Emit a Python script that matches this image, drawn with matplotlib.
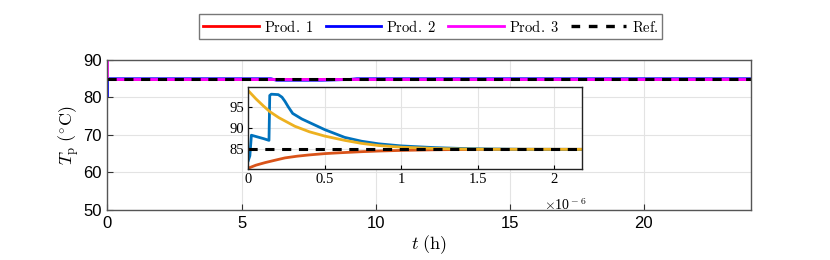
import numpy as np
import matplotlib
matplotlib.use('Agg')
import matplotlib.pyplot as plt
from matplotlib.lines import Line2D

plt.rcParams['mathtext.fontset'] = 'cm'

# main plot (t in h)
t_p1 = [0, 24]
p1 = [85, 85]
t_p2 = [0, 0.0, 0.05, 6.1, 6.3, 8.0, 9.0, 9.3, 24]
p2 = [80.5, 85, 85, 85, 84.6, 84.6, 84.8, 85, 85]
t_p3 = [0, 0.0, 0.05, 24]
p3 = [90, 85, 85, 85]
t_ref = [0, 24]
ref = [85, 85]

# inset (t in 1e-6 h)
ti_p1 = [0, 0.05, 0.11, 0.18, 0.24, 0.32, 0.4, 0.5, 0.6, 0.74, 0.85, 1.0, 1.22, 1.5, 1.8, 2.18]
pi_p1 = [80.6, 81.3, 81.9, 82.5, 83.0, 83.4, 83.7, 84.0, 84.2, 84.45, 84.6, 84.75, 84.9, 85.0, 85.0, 85.0]
ti_p2 = [0, 0.01, 0.02, 0.06, 0.1, 0.135, 0.14, 0.15, 0.196, 0.22, 0.24, 0.26, 0.29, 0.35, 0.41,
         0.5, 0.63, 0.74, 0.85, 1.0, 1.22, 1.4, 1.6, 1.8, 2.18]
pi_p2 = [82.4, 83.5, 88.3, 87.9, 87.5, 87.1, 97.6, 97.9, 97.8, 97.2, 96.2, 95.0, 93.4, 92.1, 91.1,
         89.6, 87.8, 86.9, 86.3, 85.8, 85.4, 85.2, 85.08, 85.02, 85.0]
ti_p3 = [0, 0.05, 0.1, 0.141, 0.2, 0.304, 0.4, 0.5, 0.63, 0.74, 0.85, 1.0, 1.22, 1.4, 1.6, 2.18]
pi_p3 = [98.7, 96.8, 95.1, 93.8, 92.4, 90.4, 89.1, 88.1, 87.1, 86.4, 85.9, 85.5, 85.2, 85.07, 85.02, 85.0]

fig = plt.figure(figsize=(8.3, 2.6), dpi=100)
ax = fig.add_axes([0.1295, 0.1923, 0.7753, 0.577])

ax.plot(t_p1, p1, color='red', lw=2)
ax.plot(t_p2, p2, color='blue', lw=2)
ax.plot(t_p3, p3, color='magenta', lw=2)
ax.plot(t_ref, ref, color='black', lw=2.2, ls=(0, (3, 2.5)))

ax.set_xlim(0, 24)
ax.set_ylim(50, 90)
ax.set_xticks([0, 5, 10, 15, 20])
ax.set_yticks([50, 60, 70, 80, 90])
ax.grid(True, color='#e3e3e3', lw=0.8)
ax.tick_params(direction='in', length=4, color='#333333', labelsize=12, pad=4)
for lbl in ax.get_xticklabels() + ax.get_yticklabels():
    lbl.set_fontfamily('Liberation Sans')
for s in ax.spines.values():
    s.set_color('#555555')
    s.set_linewidth(1)
ax.set_xlabel(r'$t\ \mathrm{(h)}$', fontsize=13, labelpad=2)
ax.set_ylabel(r'$T_{\mathrm{p}}\ (^{\circ}\mathrm{C})$', fontsize=13, labelpad=2)

handles = [Line2D([], [], color='red', lw=2),
           Line2D([], [], color='blue', lw=2),
           Line2D([], [], color='magenta', lw=2),
           Line2D([], [], color='black', lw=2.4, ls=(0, (2.6, 2.6)))]
labels = [r'$\mathrm{Prod.\ 1}$', r'$\mathrm{Prod.\ 2}$', r'$\mathrm{Prod.\ 3}$', r'$\mathrm{Ref.}$']
leg = fig.legend(handles, labels, loc='center', bbox_to_anchor=(0.519, 0.898), ncol=4,
                 fontsize=10.5, frameon=True, fancybox=False, edgecolor='#555555',
                 handlelength=3.8, columnspacing=0.8, handletextpad=0.35,
                 borderpad=0.3, borderaxespad=0)
leg.get_frame().set_linewidth(1)

# inset
axi = fig.add_axes([0.2992, 0.35, 0.4017, 0.314])
axi.plot(ti_p1, pi_p1, color='#D95319', lw=2)
axi.plot(ti_p2, pi_p2, color='#0072BD', lw=2)
axi.plot(ti_p3, pi_p3, color='#EDB120', lw=2)
axi.plot([0, 2.18], [85, 85], color='black', lw=2.2, ls=(0, (3, 2.5)))
axi.set_xlim(0, 2.18)
axi.set_ylim(80.4, 99.5)
axi.set_xticks([0, 0.5, 1, 1.5, 2])
axi.set_xticklabels(['0', '0.5', '1', '1.5', '2'])
axi.set_yticks([85, 90, 95])
axi.grid(True, color='#e3e3e3', lw=0.8)
axi.tick_params(direction='in', length=3, labelsize=10.5, pad=3)
for lbl in axi.get_xticklabels() + axi.get_yticklabels():
    lbl.set_fontfamily('Liberation Serif')
for s in axi.spines.values():
    s.set_color('#222222')
    s.set_linewidth(1)
axi.text(0.887, -0.44, r'$\times$10$^{\rm -6}$', transform=axi.transAxes, fontsize=10,
         family='Liberation Serif', ha='left', va='center')

fig.savefig('out.png', dpi=100)
